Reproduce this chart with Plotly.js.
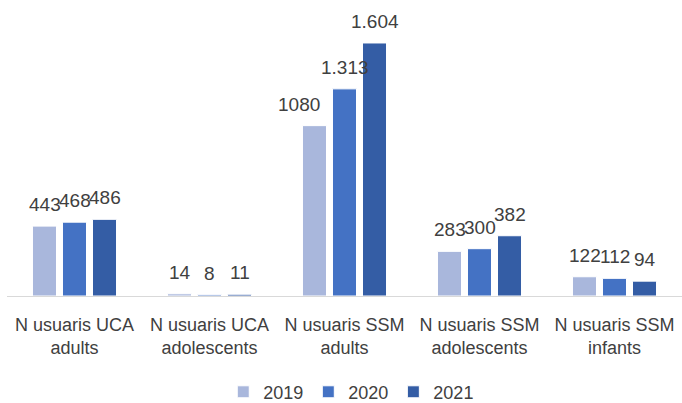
<!DOCTYPE html>
<html>
<head>
<meta charset="utf-8">
<script src="https://cdn.plot.ly/plotly-3.0.1.min.js"></script>
<style>html,body{margin:0;padding:0;background:#fff}#chart{width:682px;height:403px}</style>
</head>
<body>
<div id="chart"></div>
<script>
var categories = ["N usuaris UCA<br>adults", "N usuaris UCA<br>adolescents", "N usuaris SSM<br>adults", "N usuaris SSM<br>adolescents", "N usuaris SSM<br>infants"];
var seriesNames = ["2019", "2020", "2021"];
var values2019 = [443, 14, 1080, 283, 122];
var values2020 = [468, 8, 1313, 300, 112];
var values2021 = [486, 11, 1604, 382, 94];
var labels2019 = ["443", "14", "1080", "283", "122"];
var labels2020 = ["468", "8", "1.313", "300", "112"];
var labels2021 = ["486", "11", "1.604", "382", "94"];
var colors = ["#A9B7DC", "#4472C4", "#345DA5"];

var seriesValues = [values2019, values2020, values2021];
var seriesLabels = [labels2019, labels2020, labels2021];
var font = "'Liberation Sans', Arial, sans-serif";
var textColor = "#404040";

var traces = seriesValues.map(function (vals, i) {
  return {
    type: "bar",
    name: seriesNames[i],
    x: categories,
    y: vals,
    marker: {color: colors[i], line: {color: "#ffffff", width: 1}},
    hoverinfo: "none"
  };
});

var shifts = [-30, 0, 30];
// label nudges (series index, category index) -> extra horizontal shift in px
var nudges = {"0-2": -16};
var annotations = [];
seriesValues.forEach(function (vals, i) {
  vals.forEach(function (v, j) {
    annotations.push({
      x: categories[j], y: v, xref: "x", yref: "y",
      text: seriesLabels[i][j], showarrow: false,
      xshift: shifts[i] + (nudges[i + "-" + j] || 0), yshift: 9, yanchor: "bottom", xanchor: "center",
      font: {family: font, size: 19, color: textColor}
    });
  });
});

var layout = {
  width: 682, height: 403,
  margin: {l: 7, r: 0, t: 10, b: 107, autoexpand: false},
  paper_bgcolor: "#fff", plot_bgcolor: "#fff",
  barmode: "group", bargap: 0.333, bargroupgap: 0.2,
  showlegend: true,
  legend: {orientation: "h", x: 0.51, xanchor: "center", y: -0.336, yanchor: "middle",
    font: {family: font, size: 18, color: textColor}, itemwidth: 30, traceorder: "normal"},
  xaxis: {showline: true, linecolor: "#D9D9D9", linewidth: 1, ticks: "", showgrid: false, automargin: false,
    ticklabelstandoff: 12, tickfont: {family: font, size: 18, color: textColor}, fixedrange: true},
  yaxis: {range: [0, 1813], showgrid: false, zeroline: false, showticklabels: false, ticks: "", fixedrange: true, automargin: false},
  annotations: annotations
};

Plotly.newPlot("chart", traces, layout, {displayModeBar: false, staticPlot: true});
</script>
</body>
</html>
